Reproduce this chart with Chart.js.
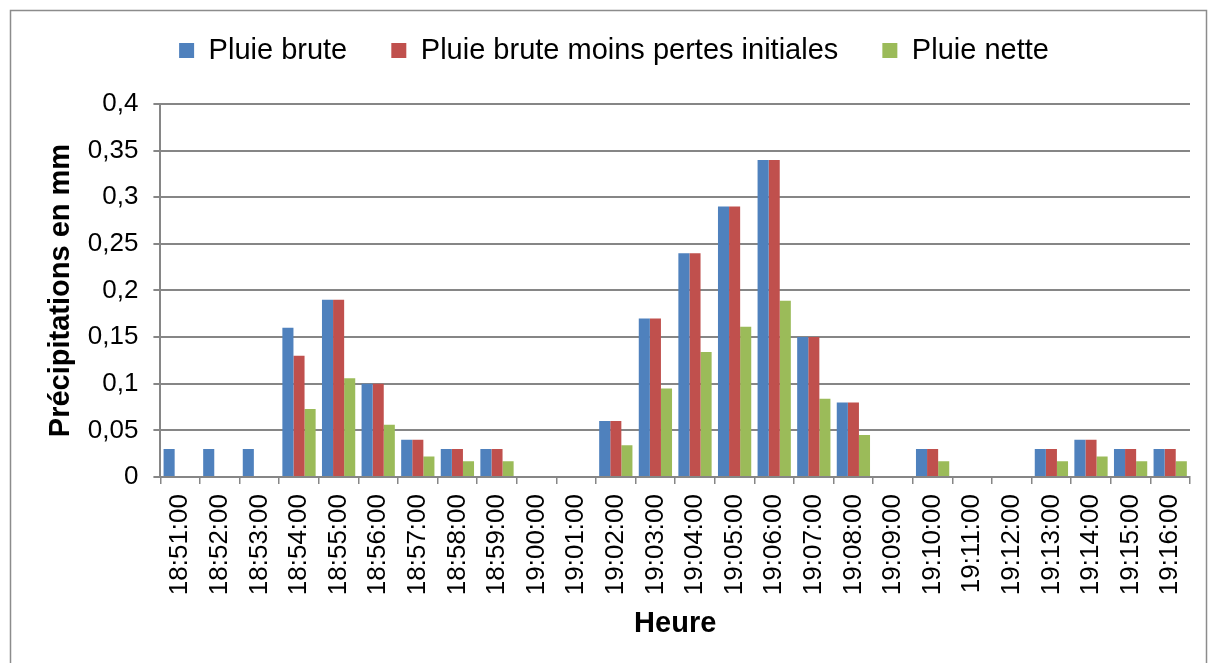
<!DOCTYPE html>
<html lang="fr">
<head>
  <meta charset="UTF-8">
  <title>Précipitations</title>
  <style>
    body { margin: 0; padding: 0; background-color: #fff; }
    #chartContainer { display: block; }
  </style>
</head>
<body>
  <canvas id="chartContainer" width="1217" height="663"></canvas>

  <script src="https://cdn.jsdelivr.net/npm/chart.js"></script>
  <script>
    const heures = ['18:51:00', '18:52:00', '18:53:00', '18:54:00', '18:55:00', '18:56:00', '18:57:00',
      '18:58:00', '18:59:00', '19:00:00', '19:01:00', '19:02:00', '19:03:00', '19:04:00', '19:05:00',
      '19:06:00', '19:07:00', '19:08:00', '19:09:00', '19:10:00', '19:11:00', '19:12:00', '19:13:00',
      '19:14:00', '19:15:00', '19:16:00'];
    const pluieBrute = [0.03, 0.03, 0.03, 0.16, 0.19, 0.1, 0.04, 0.03, 0.03, 0, 0, 0.06, 0.17, 0.24, 0.29,
      0.34, 0.15, 0.08, 0, 0.03, 0, 0, 0.03, 0.04, 0.03, 0.03];
    const pluieMoinsPertes = [0, 0, 0, 0.13, 0.19, 0.1, 0.04, 0.03, 0.03, 0, 0, 0.06, 0.17, 0.24, 0.29,
      0.34, 0.15, 0.08, 0, 0.03, 0, 0, 0.03, 0.04, 0.03, 0.03];
    const pluieNette = [0, 0, 0, 0.073, 0.106, 0.056, 0.022, 0.017, 0.017, 0, 0, 0.034, 0.095, 0.134, 0.161,
      0.189, 0.084, 0.045, 0, 0.017, 0, 0, 0.017, 0.022, 0.017, 0.017];
    const yTicks = [0, 0.05, 0.1, 0.15, 0.2, 0.25, 0.3, 0.35, 0.4];

    // cadre gris autour du graphique
    const frame = {
      id: 'frame',
      beforeDraw(chart) {
        const ctx = chart.ctx;
        ctx.save();
        ctx.strokeStyle = '#8c8c8c';
        ctx.lineWidth = 1.5;
        ctx.strokeRect(10.5, 10.5, 1196, 660);
        ctx.restore();
      }
    };

    // un peu plus d'espace sous la légende
    const legendGap = {
      id: 'legendGap',
      beforeInit(chart) {
        const fit = chart.legend.fit;
        chart.legend.fit = function() {
          fit.bind(chart.legend)();
          this.height += 29;
        };
      }
    };

    const grey = '#868686';
    const font = "'Liberation Sans', Arial, sans-serif";

    new Chart(document.getElementById('chartContainer'), {
      type: 'bar',
      data: {
        labels: heures,
        datasets: [
          { label: 'Pluie brute', data: pluieBrute, backgroundColor: '#4F81BD' },
          { label: 'Pluie brute moins pertes initiales', data: pluieMoinsPertes, backgroundColor: '#C0504D' },
          { label: 'Pluie nette', data: pluieNette, backgroundColor: '#9BBB59' }
        ]
      },
      options: {
        responsive: false,
        animation: false,
        layout: { padding: { left: 38, right: 27, top: 0, bottom: 22 } },
        datasets: { bar: { categoryPercentage: 0.84, barPercentage: 1 } },
        plugins: {
          legend: {
            position: 'top',
            labels: {
              boxWidth: 15, boxHeight: 15, padding: 36,
              color: '#000',
              font: { family: font, size: 29 },
              generateLabels(chart) {
                const items = Chart.defaults.plugins.legend.labels.generateLabels(chart);
                items.forEach((it, i) => { if (i < items.length - 1) it.text += ' '; });
                return items;
              }
            }
          },
          tooltip: { enabled: false }
        },
        scales: {
          x: {
            grid: { display: true, drawOnChartArea: false, drawTicks: true, tickLength: 7, color: grey, lineWidth: 1.5 },
            border: { color: grey, width: 2 },
            ticks: { maxRotation: 90, minRotation: 90, autoSkip: false, color: '#000', padding: 10,
              font: { family: font, size: 26 } },
            title: { display: true, text: 'Heure', color: '#000', padding: { top: 1, bottom: 0 },
              font: { family: font, size: 29, weight: 'bold' } }
          },
          y: {
            min: 0, max: 0.4,
            afterBuildTicks(axis) { axis.ticks = yTicks.map(v => ({ value: v })); },
            grid: { color: grey, lineWidth: 2, tickLength: 7 },
            border: { color: grey, width: 2 },
            ticks: {
              color: '#000', padding: 15,
              font: { family: font, size: 26 },
              callback: v => String(Math.round(v * 100) / 100).replace('.', ',')
            },
            title: { display: true, text: 'Précipitations en mm', color: '#000', padding: { top: 6, bottom: -6 },
              font: { family: font, size: 29, weight: 'bold' } }
          }
        }
      },
      plugins: [frame, legendGap]
    });
  </script>
</body>
</html>
